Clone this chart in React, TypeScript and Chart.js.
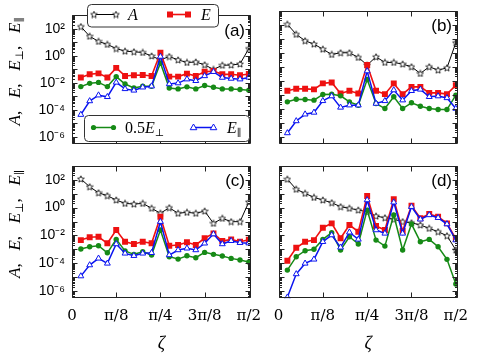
import React, { useEffect, useRef } from "react";
import { Chart, registerables } from "chart.js";
Chart.register(...registerables);

// zeta sample positions (k*pi/40, k = 1..20)
const zeta = [0.0785, 0.1571, 0.2356, 0.3142, 0.3927, 0.4712, 0.5498, 0.6283, 0.7069, 0.7854,
  0.8639, 0.9425, 1.021, 1.0996, 1.1781, 1.2566, 1.3352, 1.4137, 1.4923, 1.5708];

const xTickValues = [0, 0.3927, 0.7854, 1.1781, 1.5708];
const xTickLabels = ["0", "π/8", "π/4", "3π/8", "π/2"];
const yTickValues = [1e2, 1e0, 1e-2, 1e-4, 1e-6];
const yTickLabels = ["10²", "10⁰", "10⁻²", "10⁻⁴", "10⁻⁶"];

// values given as log10 exponents
// panel (a)
const aA = [2.17, 1.45, 1.07, 0.85, 0.54, 0.35, 0.30, 0.25, -0.01, -0.30, -0.05, -0.30, -0.49, -0.46, -0.66, -1.01, -0.70, -0.68, -0.60, 0.54];
const aE = [-1.61, -1.37, -1.30, -1.61, -0.89, -1.49, -1.44, -1.42, -1.49, 0.23, -1.54, -1.54, -1.32, -1.49, -1.18, -1.13, -1.37, -1.37, -1.44, -1.35];
const aPerp = [-2.28, -2.04, -1.97, -2.28, -1.54, -2.09, -2.38, -2.25, -2.25, -0.53, -2.38, -2.45, -2.30, -2.45, -2.20, -2.33, -2.45, -2.45, -2.49, -2.55];
const aPar = [-4.36, -3.35, -2.92, -3.04, -1.97, -2.45, -2.56, -2.33, -2.25, -0.05, -2.09, -2.02, -1.73, -1.85, -1.49, -1.18, -1.61, -1.68, -1.73, -1.60];
// panel (b)
const bA = [2.03, 1.31, 0.85, 0.61, 0.25, -0.13, -0.01, -0.01, -0.34, -0.89, -0.30, -0.70, -0.70, -0.82, -1.01, -1.49, -1.01, -1.25, -1.09, 0.71];
const bE = [-2.73, -2.59, -2.59, -2.63, -2.20, -2.13, -2.92, -2.73, -2.92, -0.89, -2.73, -2.97, -2.20, -2.97, -2.45, -2.45, -2.88, -2.88, -2.97, -2.33];
const bPerp = [-3.52, -3.33, -3.35, -3.40, -2.99, -2.97, -3.09, -3.52, -3.76, -1.92, -3.64, -4.00, -3.16, -4.00, -3.59, -3.83, -4.00, -4.07, -4.07, -3.04];
const bPar = [-5.75, -4.89, -4.41, -4.28, -3.45, -3.11, -3.92, -3.76, -3.76, -1.32, -3.64, -3.45, -2.68, -3.40, -2.73, -2.63, -3.16, -3.11, -3.24, -4.00];
// panel (c)
const cA = [2.05, 1.49, 1.06, 0.85, 0.54, 0.30, 0.25, 0.30, -0.05, -0.41, -0.01, -0.41, -0.34, -0.41, -0.25, -1.13, -0.77, -1.01, -1.01, 0.40];
const cE = [-2.33, -2.13, -2.09, -2.56, -1.61, -2.45, -2.61, -2.45, -2.56, -0.66, -2.73, -2.68, -2.49, -2.68, -2.20, -1.85, -2.40, -2.28, -2.45, -2.30];
const cPerp = [-2.97, -2.81, -2.73, -3.24, -2.28, -3.11, -3.35, -3.16, -3.40, -1.61, -3.52, -3.69, -3.45, -3.59, -3.21, -3.35, -3.47, -3.64, -3.76, -3.90];
const cPar = [-4.91, -4.12, -3.64, -4.00, -2.61, -3.28, -3.45, -3.28, -3.24, -1.01, -3.40, -3.04, -2.92, -3.04, -2.56, -1.90, -2.61, -2.38, -2.52, -2.55];
// panel (d)
const dA = [2.03, 1.31, 1.02, 0.73, 0.54, 0.35, 0.06, -0.05, -0.18, -0.30, -0.61, -0.73, -0.84, -1.01, -1.09, -1.25, -1.49, -1.73, -2.02, -3.04];
const dE = [-3.81, -2.88, -2.45, -2.33, -1.44, -1.13, -2.20, -1.25, -1.73, 0.83, -1.32, -1.61, 0.59, -1.68, 0.13, -0.77, -0.46, -0.66, -1.13, -2.25];
const dPerp = [-4.48, -3.52, -3.09, -2.99, -2.28, -1.80, -3.04, -2.09, -2.61, -0.18, -2.33, -2.76, -0.53, -3.04, -1.18, -2.45, -2.28, -2.81, -3.71, -5.48];
const dPar = [-6.43, -4.76, -4.00, -3.71, -2.45, -1.97, -2.85, -1.77, -2.28, 0.54, -1.61, -1.85, 0.38, -1.85, 0.06, -0.84, -0.53, -0.73, -1.18, -2.33];

const RED = "#ee1111";
const GREEN = "#168a16";
const BLUE = "#0a14f0";
const BLACK = "#000000";

const SERIF = "'Liberation Serif', 'DejaVu Serif', serif";
const SANS = "'Liberation Sans', Arial, sans-serif";

const YW = 60;
const XH = 30;

type PanelCfg = {
  id: string; A: number[]; E: number[]; P: number[]; Q: number[];
  L: number; R: number; T: number; B: number;
  showX: boolean; showY: boolean; legend: boolean;
};

const panels: PanelCfg[] = [
  { id: "a", A: aA, E: aE, P: aPerp, Q: aPar, L: 72, R: 251, T: 10.7, B: 143.5, showX: false, showY: true, legend: true },
  { id: "b", A: bA, E: bE, P: bPerp, Q: bPar, L: 278.5, R: 458, T: 10.7, B: 143.5, showX: false, showY: false, legend: false },
  { id: "c", A: cA, E: cE, P: cPerp, Q: cPar, L: 72, R: 251, T: 165.7, B: 298.3, showX: true, showY: true, legend: false },
  { id: "d", A: dA, E: dE, P: dPerp, Q: dPar, L: 278.5, R: 458, T: 165.7, B: 298.3, showX: true, showY: false, legend: false },
];

function makeStar(size: number, lw: number) {
  const c = document.createElement("canvas");
  c.width = size; c.height = size;
  const ctx = c.getContext("2d")!;
  const cx = size / 2, cy = size / 2 + 0.3, R = size / 2 - 0.5, r = R * 0.45;
  ctx.beginPath();
  for (let i = 0; i < 10; i++) {
    const ang = -Math.PI / 2 + (i * Math.PI) / 5;
    const rad = i % 2 === 0 ? R : r;
    const x = cx + rad * Math.cos(ang), y = cy + rad * Math.sin(ang);
    if (i === 0) ctx.moveTo(x, y); else ctx.lineTo(x, y);
  }
  ctx.closePath();
  ctx.fillStyle = "#fff"; ctx.fill();
  ctx.strokeStyle = BLACK; ctx.lineWidth = lw; ctx.stroke();
  return c;
}

type Piece = { t: string; f: string; dy?: number };
function richWidth(ctx: CanvasRenderingContext2D, pieces: Piece[]) {
  let w = 0;
  for (const p of pieces) { ctx.font = p.f; w += ctx.measureText(p.t).width; }
  return w;
}
function drawRich(ctx: CanvasRenderingContext2D, pieces: Piece[], x: number, y: number) {
  let cx = x;
  for (const p of pieces) {
    ctx.font = p.f;
    ctx.fillText(p.t, cx, y + (p.dy || 0));
    cx += ctx.measureText(p.t).width;
  }
}

function roundBox(ctx: CanvasRenderingContext2D, x: number, y: number, w: number, h: number, r: number) {
  ctx.beginPath();
  ctx.moveTo(x + r, y);
  ctx.arcTo(x + w, y, x + w, y + h, r);
  ctx.arcTo(x + w, y + h, x, y + h, r);
  ctx.arcTo(x, y + h, x, y, r);
  ctx.arcTo(x, y, x + w, y, r);
  ctx.closePath();
  ctx.fillStyle = "#fff"; ctx.fill();
  ctx.strokeStyle = "#333"; ctx.lineWidth = 1; ctx.stroke();
}

function marker(ctx: CanvasRenderingContext2D, kind: string, x: number, y: number, star: HTMLCanvasElement) {
  ctx.save();
  if (kind === "star") {
    ctx.drawImage(star, x - star.width / 2, y - star.height / 2);
  } else if (kind === "rect") {
    ctx.fillStyle = RED; ctx.fillRect(x - 3, y - 3, 6, 6);
  } else if (kind === "circle") {
    ctx.fillStyle = GREEN; ctx.beginPath(); ctx.arc(x, y, 2.6, 0, Math.PI * 2); ctx.fill();
  } else if (kind === "tri") {
    ctx.beginPath(); ctx.moveTo(x, y - 3.5); ctx.lineTo(x + 3.3, y + 2.2); ctx.lineTo(x - 3.3, y + 2.2); ctx.closePath();
    ctx.fillStyle = "#fff"; ctx.fill(); ctx.strokeStyle = BLUE; ctx.lineWidth = 1; ctx.stroke();
  }
  ctx.restore();
}

function legendLine(ctx: CanvasRenderingContext2D, kind: string, color: string, lw: number, x1: number, x2: number, y: number, star: HTMLCanvasElement) {
  ctx.save();
  ctx.strokeStyle = color; ctx.lineWidth = lw;
  ctx.beginPath(); ctx.moveTo(x1, y); ctx.lineTo(x2, y); ctx.stroke();
  ctx.restore();
  marker(ctx, kind, x1, y, star);
  marker(ctx, kind, x2, y, star);
}

function makeDeco(p: PanelCfg, star: HTMLCanvasElement) {
  return {
    id: "deco" + p.id,
    afterDraw(chart: any) {
      const ctx: CanvasRenderingContext2D = chart.ctx;
      const { left, right, top, bottom } = chart.chartArea;
      const xs = chart.scales.x, ys = chart.scales.y;
      ctx.save();
      ctx.strokeStyle = "#222"; ctx.lineWidth = 1;
      ctx.beginPath();
      const L = Math.round(left) + 0.5, R = Math.round(right) - 0.5, T = Math.round(top) + 0.5, B = Math.round(bottom) - 0.5;
      ctx.rect(L, T, R - L, B - T);
      for (const v of xTickValues) {
        const x = Math.round(xs.getPixelForValue(v)) + 0.5;
        ctx.moveTo(x, B); ctx.lineTo(x, B - 5);
        ctx.moveTo(x, T); ctx.lineTo(x, T + 5);
      }
      for (let e = -7; e <= 3; e++) {
        for (let m = 1; m <= 9; m++) {
          const v = m * Math.pow(10, e);
          if (v < ys.min * 0.999 || v > ys.max * 1.001) continue;
          const y = Math.round(ys.getPixelForValue(v)) + 0.5;
          const len = m === 1 ? 5 : 2.5;
          ctx.moveTo(L, y); ctx.lineTo(L + len, y);
          ctx.moveTo(R, y); ctx.lineTo(R - len, y);
        }
      }
      ctx.stroke();

      // panel label
      ctx.fillStyle = "#000";
      ctx.font = `17px ${SANS}`;
      ctx.textAlign = "right"; ctx.textBaseline = "middle";
      ctx.fillText(`(${p.id})`, right - 6, top + 16);
      ctx.textAlign = "left"; ctx.textBaseline = "alphabetic";

      // y axis title
      if (p.showY) {
        const it = `italic 17px ${SERIF}`;
        const rm = `17px ${SERIF}`;
        const sub = `11px ${SERIF}`;
        const gap = "   ";
        const pieces: Piece[] = [
          { t: "A", f: it }, { t: "," + gap, f: rm }, { t: "E", f: it }, { t: "," + gap, f: rm },
          { t: "E", f: it }, { t: "⊥", f: sub, dy: 3 }, { t: "," + gap, f: rm },
          { t: "E", f: it }, { t: "∥", f: sub, dy: 3 },
        ];
        const w = richWidth(ctx, pieces);
        ctx.save();
        ctx.translate(15, (top + bottom) / 2 - 8);
        ctx.rotate(-Math.PI / 2);
        drawRich(ctx, pieces, -w / 2, 5);
        ctx.restore();
      }
      // x axis title
      if (p.showX) {
        ctx.font = `italic 18px ${SERIF}`;
        ctx.textAlign = "center";
        ctx.fillText("ζ", (left + right) / 2, 349);
        ctx.textAlign = "left";
      }
      // legends
      if (p.legend) {
        roundBox(ctx, 87.5, 4.5, 131, 22.5, 4);
        legendLine(ctx, "star", BLACK, 1, 94, 116, 14.5, star);
        ctx.fillStyle = "#000";
        drawRich(ctx, [{ t: "A", f: `italic 16px ${SERIF}` }], 128, 20);
        legendLine(ctx, "rect", RED, 1.6, 170, 188, 14.5, star);
        ctx.fillStyle = "#000";
        drawRich(ctx, [{ t: "E", f: `italic 16px ${SERIF}` }], 201, 20);

        roundBox(ctx, 84.5, 115.5, 165, 26, 4);
        legendLine(ctx, "circle", GREEN, 1.5, 93.5, 113.5, 127.5, star);
        ctx.fillStyle = "#000";
        drawRich(ctx, [
          { t: "0.5", f: `16px ${SERIF}` },
          { t: "E", f: `italic 16px ${SERIF}` },
          { t: "⊥", f: `10px ${SERIF}`, dy: 3 },
        ], 125, 133);
        legendLine(ctx, "tri", BLUE, 1.5, 193.5, 213.5, 127.5, star);
        ctx.fillStyle = "#000";
        drawRich(ctx, [
          { t: "E", f: `italic 16px ${SERIF}` },
          { t: "∥", f: `10px ${SERIF}`, dy: 3 },
        ], 227, 133);
      }
      ctx.restore();
    },
  };
}

function Panel({ p }: { p: PanelCfg }) {
  const ref = useRef<HTMLCanvasElement | null>(null);
  useEffect(() => {
    if (!ref.current) return;
    const star = makeStar(8, 0.8);
    const pts = (arr: number[]) => zeta.map((x, i) => ({ x, y: Math.pow(10, arr[i]) }));
    const chart = new Chart(ref.current, {
      type: "line",
      data: {
        datasets: [
          { label: "A", data: pts(p.A), borderColor: BLACK, borderWidth: 1, pointStyle: star as any, pointRadius: 4, order: 4, tension: 0 },
          { label: "E", data: pts(p.E), borderColor: RED, backgroundColor: RED, borderWidth: 1.6, pointStyle: "rect", pointRadius: 4.2, pointBorderWidth: 0, order: 3, tension: 0 },
          { label: "0.5E⊥", data: pts(p.P), borderColor: GREEN, backgroundColor: GREEN, borderWidth: 1.5, pointStyle: "circle", pointRadius: 2.7, pointBorderWidth: 0, order: 2, tension: 0 },
          { label: "E∥", data: pts(p.Q), borderColor: BLUE, backgroundColor: "#fff", borderWidth: 1.5, pointStyle: "triangle", pointRadius: 3.4, pointBorderWidth: 1, order: 1, tension: 0 },
        ],
      } as any,
      options: {
        animation: false,
        responsive: false,
        events: [],
        layout: { padding: { left: p.L - YW, right: 480 - p.R, top: p.T, bottom: 360 - p.B - XH } },
        plugins: { legend: { display: false }, tooltip: { enabled: false } },
        scales: {
          x: {
            type: "linear", min: 0, max: 1.59,
            grid: { display: false, drawTicks: false }, border: { display: false },
            ticks: {
              display: p.showX, padding: 9, color: "#000", autoSkip: false, maxRotation: 0,
              font: { family: "'DejaVu Serif', serif", size: 15 },
              callback: (_v: any, i: number) => xTickLabels[i],
            },
            afterBuildTicks: (s: any) => { s.ticks = xTickValues.map((v) => ({ value: v })); },
            afterFit: (s: any) => { s.height = XH; },
          },
          y: {
            type: "logarithmic", min: Math.pow(10, -6.5), max: 1000,
            grid: { display: false, drawTicks: false }, border: { display: false },
            ticks: {
              display: p.showY, padding: 7, color: "#000", autoSkip: false,
              font: { family: SANS, size: 14 },
              callback: (_v: any, i: number) => yTickLabels[i],
            },
            afterBuildTicks: (s: any) => { s.ticks = yTickValues.map((v) => ({ value: v })); },
            afterFit: (s: any) => { s.width = YW; },
          },
        },
      } as any,
      plugins: [makeDeco(p, star)],
    });
    return () => chart.destroy();
  }, [p]);
  return <canvas ref={ref} width={480} height={360} style={{ position: "absolute", left: 0, top: 0, width: 480, height: 360 }} />;
}

export default function App() {
  return (
    <div style={{ position: "fixed", left: 0, top: 0, width: 480, height: 360, background: "#fff", overflow: "hidden" }}>
      {panels.map((p) => <Panel key={p.id} p={p} />)}
    </div>
  );
}
